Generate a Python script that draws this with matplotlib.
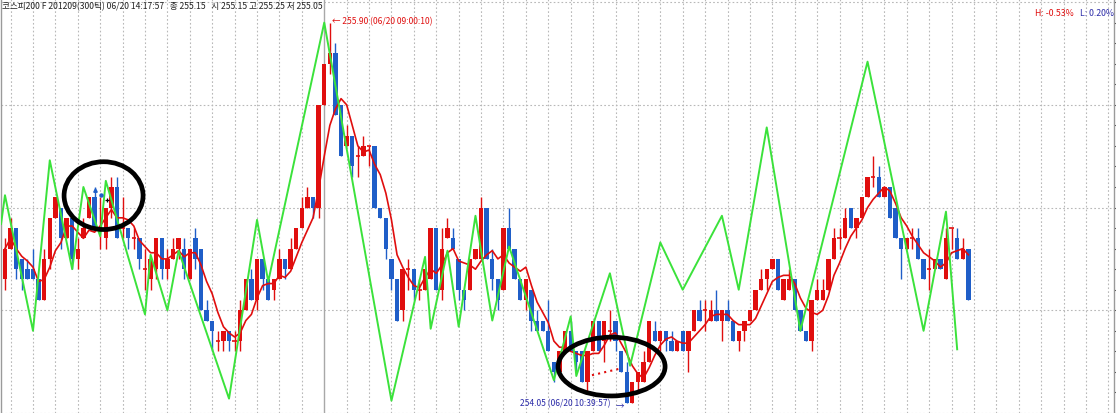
import numpy as np
import pandas as pd
import matplotlib
matplotlib.use("Agg")
import matplotlib.pyplot as plt
from matplotlib.patches import Ellipse

plt.rcParams['font.family'] = ['Noto Sans CJK KR', 'DejaVu Sans']

# price in ticks above 254.00 (1 tick = 0.05)
BASE = 254.0
TICK = 0.05

open_t = [13, 16, 18, 15, 14, 14, 13, 11, 15, 19,
          20, 17, 19, 15, 17, 19, 21, 18, 17, 20,
          22, 18, 18, 17, 17, 14, 13, 14, 17, 14,
          15, 16, 16, 13, 17, 16, 10, 9, 7, 7,
          8, 7, 7, 10, 13, 11, 15, 13, 12, 13,
          15, 14, 16, 18, 20, 21, 20, 30, 34, 35,
          30, 26, 27, 25, 25, 26, 26, 20, 19, 15,
          13, 10, 14, 14, 12, 12, 13, 18, 12, 17,
          17, 15, 12, 12, 15, 15, 20, 15, 13, 12,
          18, 16, 13, 11, 12, 9, 9, 8, 5, 4,
          6, 8, 6, 6, 3, 6, 9, 7, 8, 9,
          6, 4, 1, 3, 3, 5, 8, 7, 8, 7,
          6, 8, 6, 8, 10, 10, 9, 10, 9, 10,
          9, 7, 8, 9, 10, 12, 13, 14, 15, 11,
          12, 13, 10, 8, 7, 11, 11, 12, 15, 17,
          17, 20, 18, 19, 21, 23, 23, 21, 22, 20,
          17, 16, 17, 17, 15, 14, 14, 15, 13, 18,
          17, 15, 16]
close_t = [16, 18, 14, 13, 13, 13, 11, 15, 19, 21,
           17, 19, 15, 16, 18, 21, 18, 18, 20, 22,
           17, 18, 17, 17, 15, 14, 15, 17, 14, 15,
           16, 17, 14, 16, 15, 10, 9, 8, 7, 8,
           7, 7, 10, 13, 11, 15, 13, 11, 13, 15,
           14, 16, 18, 20, 21, 20, 30, 34, 35, 29,
           25, 27, 24, 25, 26, 26, 20, 19, 16, 13,
           9, 14, 14, 12, 12, 14, 18, 12, 16, 18,
           16, 12, 11, 15, 16, 20, 15, 13, 11, 18,
           16, 13, 11, 13, 9, 8, 8, 6, 4, 6,
           8, 6, 5, 3, 6, 9, 6, 9, 8, 7,
           4, 1, 3, 4, 5, 9, 7, 8, 7, 6,
           7, 6, 8, 10, 9, 10, 10, 9, 10, 9,
           7, 8, 9, 10, 12, 13, 14, 15, 12, 13,
           13, 10, 8, 7, 11, 12, 12, 15, 17, 17,
           19, 18, 19, 21, 23, 23, 21, 22, 19, 17,
           16, 17, 17, 15, 13, 14, 15, 14, 17, 18,
           15, 16, 11]
high_t = [17, 19, 18, 15, 15, 16, 13, 16, 19, 21,
          20, 19, 19, 17, 19, 21, 22, 21, 20, 23,
          23, 21, 18, 18, 17, 16, 15, 17, 17, 16,
          17, 17, 17, 16, 18, 16, 11, 9, 8, 8,
          8, 8, 11, 13, 14, 15, 15, 13, 13, 16,
          15, 17, 18, 21, 22, 21, 30, 34, 38, 36,
          30, 28, 27, 26, 27, 26, 26, 20, 19, 15,
          13, 14, 15, 14, 13, 14, 18, 18, 18, 19,
          18, 15, 12, 15, 16, 21, 20, 16, 13, 18,
          20, 16, 13, 13, 12, 10, 9, 11, 5, 6,
          8, 9, 6, 6, 6, 9, 9, 9, 10, 9,
          6, 5, 3, 4, 6, 9, 9, 8, 8, 8,
          7, 8, 8, 10, 11, 11, 11, 12, 10, 11,
          9, 8, 9, 10, 12, 14, 14, 15, 15, 13,
          14, 13, 10, 8, 11, 13, 13, 15, 18, 18,
          20, 20, 19, 21, 23, 25, 24, 22, 22, 20,
          17, 17, 18, 18, 15, 16, 15, 15, 18, 18,
          18, 17, 16]
low_t = [12, 16, 13, 12, 13, 13, 11, 11, 14, 19,
         16, 17, 14, 14, 17, 19, 18, 16, 16, 19,
         17, 17, 16, 16, 14, 12, 12, 13, 13, 13,
         15, 15, 13, 13, 14, 10, 9, 6, 6, 6,
         6, 6, 6, 10, 11, 10, 12, 11, 11, 13,
         13, 14, 16, 18, 20, 19, 19, 30, 33, 29,
         25, 26, 23, 23, 25, 24, 20, 19, 15, 12,
         9, 9, 12, 11, 11, 12, 13, 12, 11, 17,
         16, 11, 10, 12, 15, 15, 15, 12, 10, 12,
         16, 13, 11, 10, 8, 8, 8, 6, 3, 4,
         6, 6, 4, 3, 2, 6, 6, 5, 7, 6,
         4, 1, 1, 2, 3, 5, 7, 6, 6, 6,
         6, 6, 4, 8, 9, 8, 9, 9, 7, 9,
         7, 6, 7, 9, 10, 12, 12, 14, 12, 11,
         12, 10, 8, 7, 6, 11, 11, 12, 15, 16,
         17, 18, 17, 19, 21, 22, 21, 21, 19, 17,
         13, 16, 16, 15, 13, 12, 14, 14, 13, 16,
         15, 15, 11]

# green zigzag indicator vertices (bar index, price)
zz_idx = [-0.7, 0, 5, 8, 12, 14, 17, 18, 25, 26, 29, 31, 40, 45, 47, 57,
          69, 75, 76, 79, 81, 84, 87, 90, 98, 101, 102, 108, 111.6, 117,
          121, 128, 131, 136, 142, 154, 164, 168, 170]
zz_price = [254.92, 255.06, 254.40, 255.23, 254.70, 255.10, 254.86, 255.13,
            254.48, 254.77, 254.50, 254.79, 254.07, 254.94, 254.64, 255.90,
            254.06, 254.76, 254.41, 254.79, 254.42, 254.96, 254.45, 254.81,
            254.16, 254.47, 254.18, 254.68, 254.23, 254.83, 254.60, 254.96,
            254.60, 255.39, 254.40, 255.71, 254.40, 254.98, 254.31]

# dotted trend segment inside lower ellipse
trend_idx = [104.8, 109.5]
trend_price = [254.184, 254.214]

RED = '#E00E0E'
BLUE = '#1F5EC8'
GREEN = '#3BE23B'
GRID = '#B8B8B8'

o = BASE + TICK * np.array(open_t)
c = BASE + TICK * np.array(close_t)
h = BASE + TICK * np.array(high_t)
l = BASE + TICK * np.array(low_t)
x = np.arange(len(o))
ma5 = pd.Series(c).rolling(5, min_periods=1).mean()

fig = plt.figure(figsize=(11.16, 4.14), dpi=100)
fig.patch.set_facecolor('white')
ax = fig.add_axes([0.5 / 1116, 0, 1113.5 / 1116, 1])
ax.set_xlim(-0.8, 198.0)
ax.set_ylim(254.005, 256.015)

# grid
for gy in [254.0, 254.5, 255.0, 255.5, 256.0]:
    ax.axhline(gy, color=GRID, lw=0.8, ls=(0, (1.5, 2)), zorder=0)
for gx in range(1, 198, 4):
    if gx == 57:
        ax.axvline(gx, color='#A8A8A8', lw=1.0, zorder=0)
    else:
        ax.axvline(gx, color=GRID, lw=0.8, ls=(0, (1.5, 2)), zorder=0)

# candles
up = c > o
down = c < o
doji = c == o
cols = np.where(c >= o, RED, BLUE)
ax.vlines(x, l, h, colors=cols, lw=1.0, zorder=2)
ax.bar(x[up], (c - o)[up], bottom=o[up], width=0.78, color=RED, lw=0, zorder=3)
ax.bar(x[down], (o - c)[down], bottom=c[down], width=0.78, color=BLUE, lw=0, zorder=3)
ax.hlines(c[doji], x[doji] - 0.38, x[doji] + 0.38, colors=cols[doji], lw=1.2, zorder=3)

ax.plot(x, ma5, color=RED, lw=1.2, zorder=4)
ax.plot(zz_idx, zz_price, color=GREEN, lw=1.4, zorder=5)
ax.plot(trend_idx, trend_price, color=RED, lw=1.5, ls=(0, (1, 2)), zorder=5)

# tiny markers in the first circle
ax.plot([16.0], [255.085], marker='^', ms=2.5, color=BLUE, zorder=6)
ax.plot([17.1], [255.06], marker='o', ms=2.2, color=BLUE, zorder=6)
ax.plot([18.2], [255.035], marker='+', ms=3.5, color='black', mew=0.9, zorder=6)

# hand drawn circles
ax.add_patch(Ellipse((17.6, 255.058), 14.1, 0.330, fill=False, ec='black', lw=3.4, zorder=7))
ax.add_patch(Ellipse((108.3, 254.226), 19.1, 0.286, fill=False, ec='black', lw=3.4, zorder=7))

# axes frame and right-hand ticks
for s in ['top', 'bottom']:
    ax.spines[s].set_visible(False)
for s in ['left', 'right']:
    ax.spines[s].set_color('#9A9A9A')
    ax.spines[s].set_linewidth(1.0)
ax.set_xticks([])
ax.yaxis.tick_right()
ax.set_yticks(np.arange(254.0, 256.01, 0.1))
ax.tick_params(axis='y', length=3, width=0.8, color='#555555', labelright=False)

# texts
def px(xp, yp):
    return xp / 1116, 1 - yp / 414

fig.text(*px(2, 7), '코스피200 F 201209(300틱) 06/20 14:17:57   종 255.15   시 255.15 고 255.25 저 255.05',
         fontsize=6.2, color='#222222', va='center', ha='left')
fig.text(*px(332, 22), '← 255.90 (06/20 09:00:10)', fontsize=6.1, color=RED, va='center', ha='left')
fig.text(*px(520, 404), '254.05 (06/20 10:39:57)', fontsize=6.1, color='#2A2AA8', va='center', ha='left')
fig.text(*px(616, 407), '→', fontsize=6.1, color='#2A2AA8', va='center', ha='left')
fig.text(*px(1035, 13), 'H: -0.53%', fontsize=6.3, color=RED, va='center', ha='left')
fig.text(*px(1080, 13), 'L: 0.20%', fontsize=6.3, color='#2A2AA8', va='center', ha='left')

fig.savefig('out.png', dpi=100, facecolor='white')
